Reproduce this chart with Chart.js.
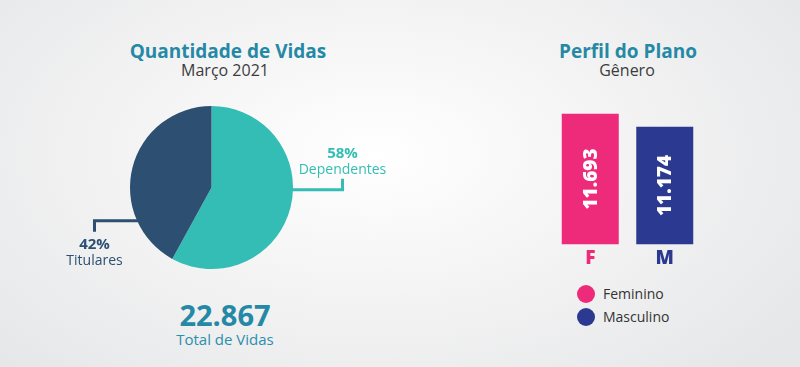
<!DOCTYPE html>
<html>
<head>
<meta charset="utf-8">
<script src="https://cdn.jsdelivr.net/npm/chart.js@4/dist/chart.umd.min.js"></script>
<style>
  html, body { margin: 0; padding: 0; }
  body {
    width: 800px; height: 367px; overflow: hidden; position: relative;
    font-family: "Open Sans", sans-serif;
    background: radial-gradient(ellipse 520px 300px at 47% 42%, #ffffff 0%, #f4f4f5 45%, #e6e7e8 100%);
  }
  .title { position: absolute; text-align: center; width: 300px; font-weight: 700; font-size: 19px; color: #2589a6; line-height: 22px; }
  .sub { position: absolute; text-align: center; width: 300px; font-size: 16px; color: #3c3c3c; line-height: 20px; }
  #pieBox { position: absolute; left: 40px; top: 96px; width: 360px; height: 190px; }
  #barBox { position: absolute; left: 540px; top: 96px; width: 180px; height: 180px; }
  #total { position: absolute; left: 75px; width: 300px; top: 297px; text-align: center; font-weight: 700; font-size: 29px; color: #2589a6; line-height: 36px; }
  #totalLbl { position: absolute; left: 75px; width: 300px; top: 329px; text-align: center; font-size: 15px; color: #2b8fab; line-height: 20px; }
  #legend { position: absolute; left: 577px; top: 282px; }
  #legend div { display: flex; align-items: center; height: 23px; font-size: 14px; color: #333; }
  #legend span.dot { width: 18px; height: 18px; border-radius: 50%; margin-right: 8px; display: inline-block; }
</style>
</head>
<body>
<div class="title" style="left:78px; top:40px;">Quantidade de Vidas</div>
<div class="sub" style="left:75px; top:60px;">Março 2021</div>
<div class="title" style="left:478px; top:40px;">Perfil do Plano</div>
<div class="sub" style="left:477px; top:60px;">Gênero</div>

<div id="pieBox"><canvas id="pie"></canvas></div>
<div id="barBox"><canvas id="bar"></canvas></div>
<div id="total"></div>
<div id="totalLbl">Total de Vidas</div>
<div id="legend"></div>

<script>
const pieLabels = ['Dependentes', 'Titulares'];
const pieValues = [58, 42];
const pieColors = ['#33bdb5', '#2c4f72'];

const totalVidas = '22.867';

const barCats = ['F', 'M'];
const barNames = ['Feminino', 'Masculino'];
const barValues = [11693, 11174];
const barColors = ['#ee2a7b', '#2b3990'];

document.getElementById('total').textContent = totalVidas;

const fmt = v => v.toLocaleString('de-DE');

// leader lines + labels next to the pie
const pieCallouts = {
  id: 'pieCallouts',
  afterDatasetsDraw(chart, args, opts) {
    const ctx = chart.ctx;
    const meta = chart.getDatasetMeta(0);
    meta.data.forEach((arc, i) => {
      const o = opts.items[i];
      const p = arc.getProps(['x', 'y', 'outerRadius'], true);
      const a = o.angle * Math.PI / 180;
      const sx = p.x + p.outerRadius * Math.cos(a);
      const sy = p.y + p.outerRadius * Math.sin(a);
      const ex = p.x + o.reach;
      const ey = sy + o.drop;
      ctx.save();
      ctx.strokeStyle = pieColors[i];
      ctx.lineWidth = 3;
      ctx.beginPath();
      ctx.moveTo(sx - Math.sign(o.reach), sy);
      ctx.lineTo(ex, sy);
      ctx.lineTo(ex, ey);
      ctx.stroke();
      ctx.fillStyle = pieColors[i];
      ctx.textAlign = 'center';
      ctx.textBaseline = 'middle';
      const y1 = o.drop < 0 ? ey - 25 : ey + 13;
      ctx.font = '700 15px "Open Sans"';
      ctx.fillText(pieValues[i] + '%', ex, y1);
      ctx.font = '400 14px "Open Sans"';
      ctx.fillText(pieLabels[i], ex, y1 + 16);
      ctx.restore();
    });
  }
};

new Chart(document.getElementById('pie'), {
  type: 'pie',
  data: {
    labels: pieLabels,
    datasets: [{ data: pieValues, backgroundColor: pieColors, borderWidth: 0 }]
  },
  options: {
    responsive: true,
    maintainAspectRatio: false,
    animation: false,
    layout: { padding: { left: 90, right: 107, top: 10, bottom: 17 } },
    plugins: {
      legend: { display: false },
      tooltip: { enabled: false },
      pieCallouts: {
        items: [
          { angle: 1.5, reach: 131, drop: -11 },
          { angle: 156, reach: -117, drop: 11 }
        ]
      }
    }
  },
  plugins: [pieCallouts]
});

// rotated values inside bars
const barValuesInside = {
  id: 'barValuesInside',
  afterDatasetsDraw(chart) {
    const ctx = chart.ctx;
    const yScale = chart.scales.y;
    const meta = chart.getDatasetMeta(0);
    meta.data.forEach((bar, i) => {
      const x = bar.getProps(['x'], true).x;
      const top = yScale.getPixelForValue(barValues[i]);
      const base = yScale.getPixelForValue(yScale.min);
      ctx.save();
      ctx.translate(x, (top + base) / 2);
      ctx.rotate(-Math.PI / 2);
      ctx.fillStyle = '#ffffff';
      ctx.font = '800 19px "Open Sans"';
      ctx.textAlign = 'center';
      ctx.textBaseline = 'middle';
      ctx.fillText(fmt(barValues[i]), 0, 1);
      ctx.restore();
    });
  }
};

new Chart(document.getElementById('bar'), {
  type: 'bar',
  data: {
    labels: barCats,
    datasets: [{
      data: barValues,
      backgroundColor: barColors,
      barPercentage: 0.765,
      categoryPercentage: 1
    }]
  },
  options: {
    responsive: true,
    maintainAspectRatio: false,
    animation: false,
    layout: { padding: { left: 13, right: 18, top: 10, bottom: 3 } },
    scales: {
      x: {
        grid: { display: false, drawTicks: false },
        border: { display: false },
        ticks: {
          color: barColors,
          font: { family: 'Open Sans', weight: '800', size: 19 },
          padding: 3
        }
      },
      y: {
        display: false,
        min: 6500,
        max: 12000
      }
    },
    plugins: {
      legend: { display: false },
      tooltip: { enabled: false }
    }
  },
  plugins: [barValuesInside]
});

const legend = document.getElementById('legend');
barNames.forEach((name, i) => {
  const row = document.createElement('div');
  const dot = document.createElement('span');
  dot.className = 'dot';
  dot.style.background = barColors[i];
  row.appendChild(dot);
  row.appendChild(document.createTextNode(name));
  legend.appendChild(row);
});
</script>
</body>
</html>
